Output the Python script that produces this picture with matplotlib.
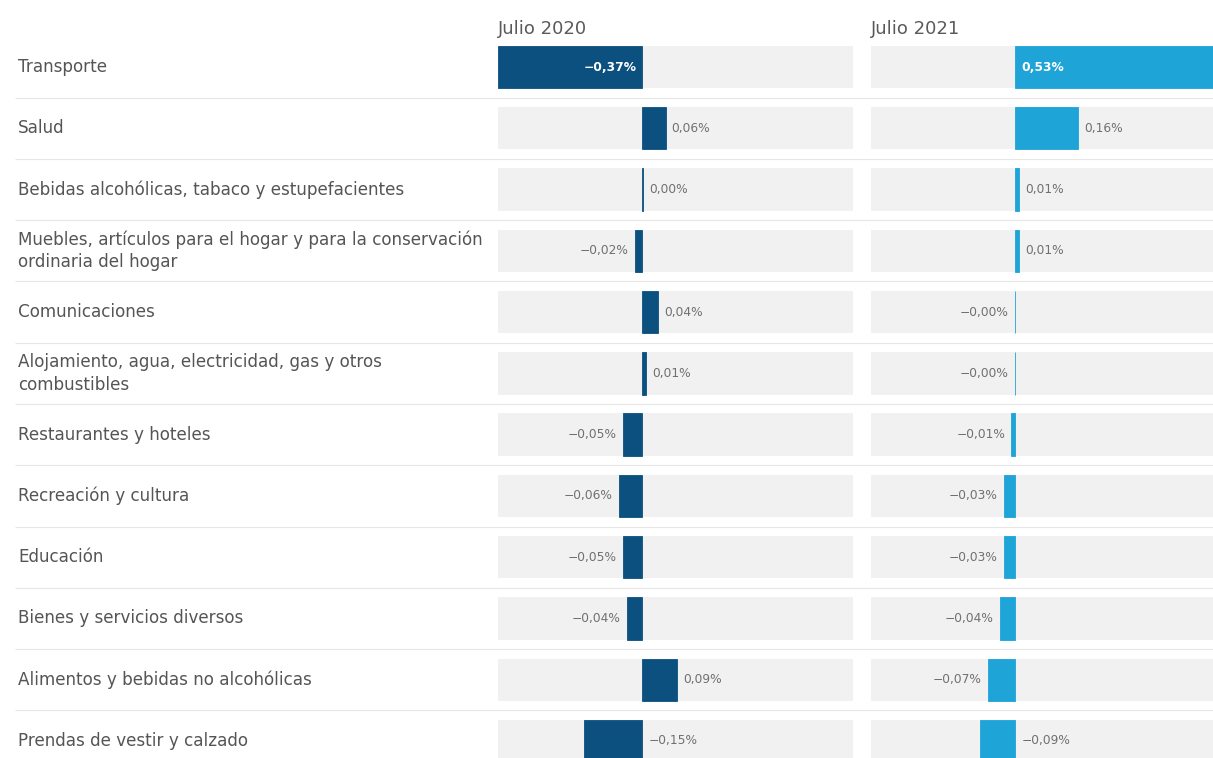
import matplotlib.pyplot as plt

plt.rcParams['font.family'] = ['DejaVu Sans']

categories = [
    "Transporte",
    "Salud",
    "Bebidas alcohólicas, tabaco y estupefacientes",
    "Muebles, artículos para el hogar y para la conservación\nordinaria del hogar",
    "Comunicaciones",
    "Alojamiento, agua, electricidad, gas y otros\ncombustibles",
    "Restaurantes y hoteles",
    "Recreación y cultura",
    "Educación",
    "Bienes y servicios diversos",
    "Alimentos y bebidas no alcohólicas",
    "Prendas de vestir y calzado",
]
periods = ["Julio 2020", "Julio 2021"]
julio_2020 = [-0.37, 0.06, 0.002, -0.02, 0.04, 0.01, -0.05, -0.06, -0.05, -0.04, 0.09, -0.15]
julio_2021 = [0.53, 0.16, 0.01, 0.01, -0.001, -0.001, -0.01, -0.03, -0.03, -0.04, -0.07, -0.09]
colors = ["#0b507f", "#1ea4d6"]

W, H = 1213, 758
fig = plt.figure(figsize=(W / 100, H / 100), dpi=100)

n = len(categories)
x_min = min(julio_2020 + julio_2021)
x_max = max(julio_2020 + julio_2021) + 0.01

# vertical extent of the rows (pixels from top)
row_top, row_bottom = 36.4, 771.6
bottom = 1 - row_bottom / H
height = (row_bottom - row_top) / H

# full-width axes for the category labels and row separators
ax_bg = fig.add_axes([0, bottom, 1, height])
ax_bg.set_xlim(0, 1)
ax_bg.set_ylim(n - 0.5, -0.5)
ax_bg.axis("off")
ax_bg.hlines([i + 0.5 for i in range(n - 1)], 15 / W, 1, color="#e6e6e6", lw=0.8)
tr = ax_bg.get_yaxis_transform()
for i, cat in enumerate(categories):
    ax_bg.text(18 / W, i, cat, transform=tr, ha="left", va="center",
               fontsize=12.1, color="#555555", linespacing=1.33)


def fmt(v):
    s = f"{v:.2f}".replace(".", ",") + "%"
    return s.replace("-", "\u2212")


panel_left = [498 / W, 871 / W]
panel_width = 355 / W
for k, (vals, label) in enumerate(zip([julio_2020, julio_2021], periods)):
    ax = fig.add_axes([panel_left[k], bottom, panel_width, height])
    ax.set_facecolor("none")
    ax.set_xlim(x_min, x_max)
    ax.set_ylim(n - 0.5, -0.5)
    ax.axis("off")
    ys = list(range(n))
    ax.barh(ys, [x_max - x_min] * n, left=x_min, height=0.69, color="#f1f1f1", zorder=1)
    ax.barh(ys, vals, height=0.69, color=colors[k], edgecolor=colors[k], lw=0.6, zorder=2)
    span = x_max - x_min
    for i, v in enumerate(vals):
        txt = fmt(v)
        if abs(v) > 0.3 * span:
            # long bar: label inside, next to the baseline
            ha = "right" if v < 0 else "left"
            dx = -6 if v < 0 else 6
            ax.annotate(txt, (0, i), xytext=(dx, 0), textcoords="offset pixels",
                        ha=ha, va="center", fontsize=8.8, color="white",
                        fontweight="bold", zorder=3)
        elif v >= 0 or i == n - 1:
            ax.annotate(txt, (max(v, 0), i), xytext=(6, 0), textcoords="offset pixels",
                        ha="left", va="center", fontsize=8.8, color="#707070", zorder=3)
        else:
            ax.annotate(txt, (v, i), xytext=(-6, 0), textcoords="offset pixels",
                        ha="right", va="center", fontsize=8.8, color="#707070", zorder=3)
    ax.annotate(label, (0, 1), xycoords="axes fraction", xytext=(0, 7),
                textcoords="offset pixels", ha="left", va="center",
                fontsize=13, color="#5a5a5a")

fig.savefig("out.png", dpi=100)
